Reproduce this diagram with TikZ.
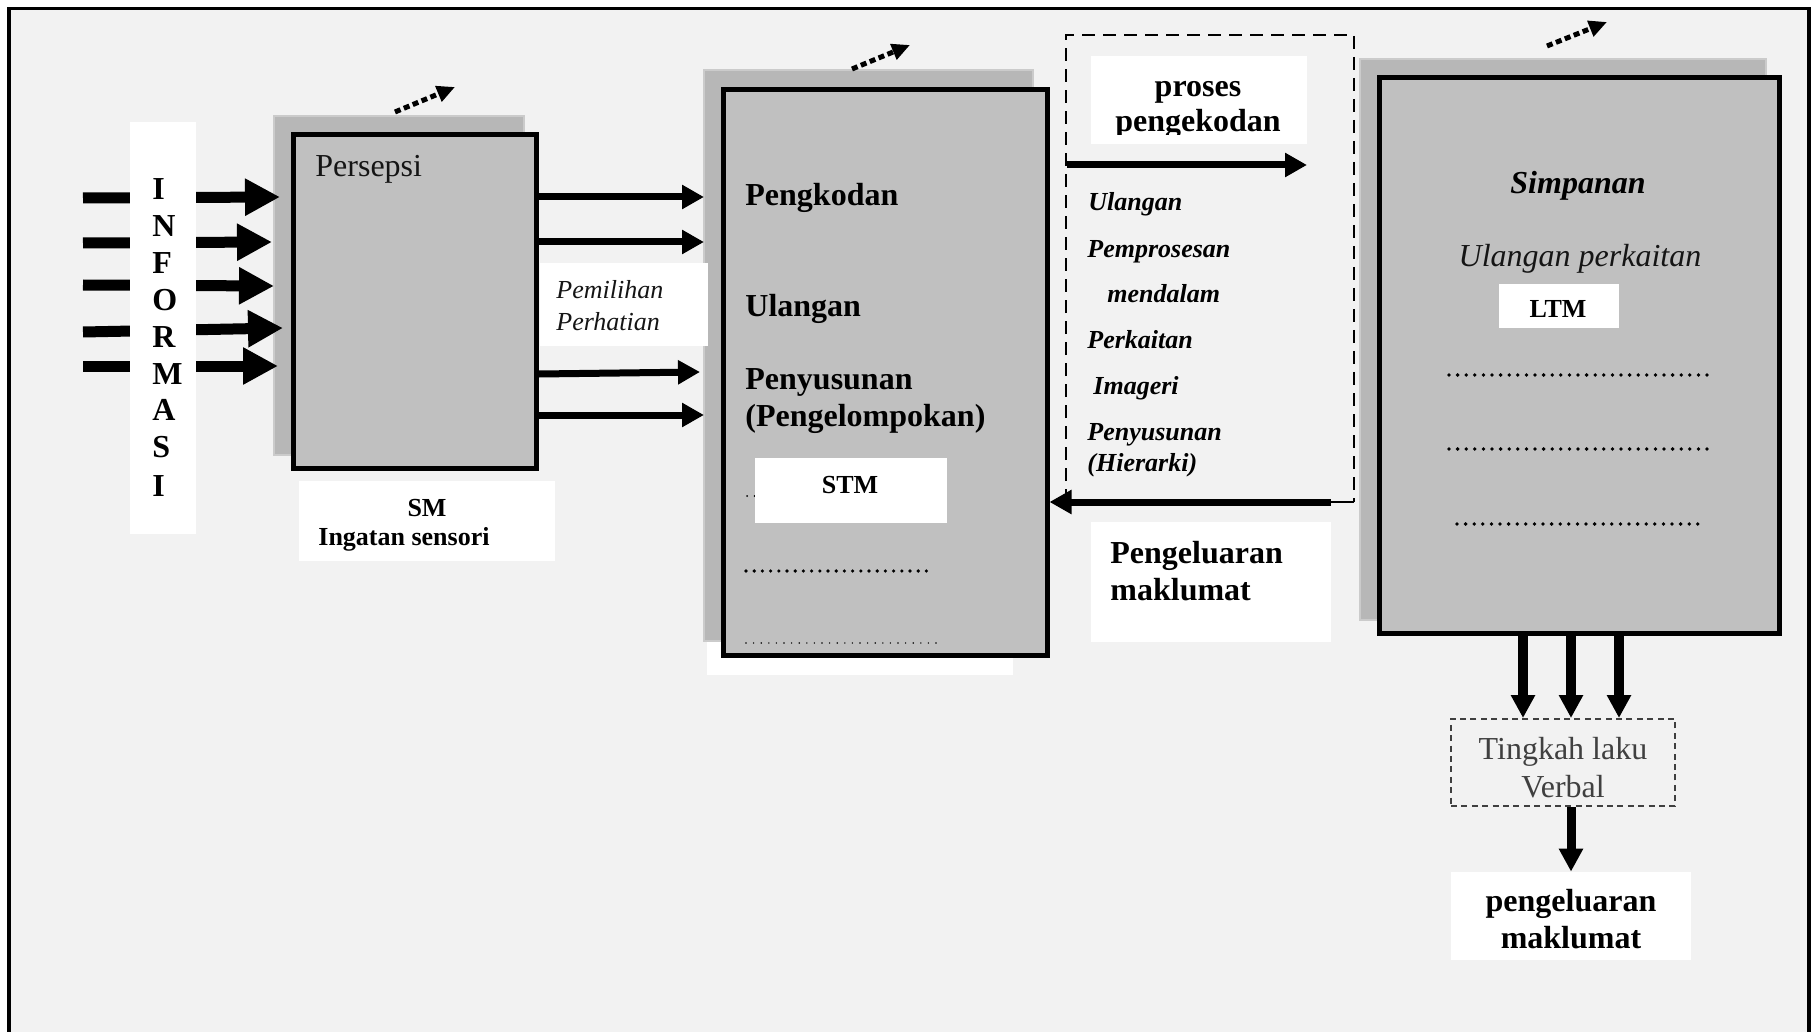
\documentclass[tikz,border=0pt]{standalone}
\usepackage{fontspec}
\setmainfont{Liberation Serif}
\usetikzlibrary{arrows.meta,fit}
\definecolor{pagebg}{HTML}{F2F2F2}
\definecolor{boxgray}{HTML}{C0C0C0}
\definecolor{shadegray}{HTML}{B7B7B7}
\definecolor{shadeedge}{HTML}{CBCBCB}
\definecolor{softtext}{HTML}{404040}
\definecolor{inktext}{HTML}{151515}
\begin{document}
\begin{tikzpicture}[x=0.5pt,y=-0.5pt,
  mainbox/.style={draw=black, line width=2.5pt, fill=boxgray, inner sep=0pt},
  shadebox/.style={draw=shadeedge, line width=0.8pt, fill=shadegray, inner sep=0pt},
  paper/.style={fill=white, draw=none, inner sep=0pt},
  lbl/.style={inner sep=0pt, anchor=base west},
  clbl/.style={inner sep=0pt, anchor=base},
  fatarrow/.style={line width=5.5pt, -{Triangle[length=17.5pt,width=17.5pt]}},
  midarrow/.style={line width=3.5pt, -{Triangle[length=11pt,width=11.5pt]}},
  downarrow/.style={line width=5pt, -{Triangle[length=11.5pt,width=11.5pt]}},
  hintarrow/.style={line width=2.5pt, dash pattern=on 3pt off 1.8pt, -{Triangle[length=9pt,width=8pt]}},
  dotrow/.style={line width=1.9pt, line cap=round, dash pattern=on 0pt off 4.3pt},
  finedots/.style={line width=0.8pt, line cap=round, dash pattern=on 0pt off 3.8pt},
  bigbold/.style={font=\fontsize{16}{19}\selectfont\bfseries},
  bigplain/.style={font=\fontsize{16}{19}\selectfont},
  bigit/.style={font=\fontsize{16}{19}\selectfont\itshape},
  bigboldit/.style={font=\fontsize{16}{19}\selectfont\bfseries\itshape},
  smallbold/.style={font=\fontsize{13}{15}\selectfont\bfseries},
  smallit/.style={font=\fontsize{13}{15}\selectfont\itshape},
  smallboldit/.style={font=\fontsize{13}{15}\selectfont\bfseries\itshape}
]
% page and frame
\useasboundingbox (0,0) rectangle (1815,1032);
\fill[white] (0,0) rectangle (1815,1032);
\fill[pagebg] (9,8.5) rectangle (1809,1032);
\draw[line width=1.75pt] (9,1032) -- (9,8.5) -- (1809,8.5) -- (1809,1032);

% back layers
\node[shadebox, fit={(274,116) (524,455)}] (persepsiback) {};
\node[paper, fit={(707,600) (1013,675)}] (stmfoot) {};
\node[shadebox, fit={(704,70) (1033,641)}] (stmback) {};
\node[shadebox, fit={(1360,59) (1766,620)}] (ltmback) {};

% label panels
\node[paper, fit={(540,263) (708,346)}] (pilihpanel) {};
\node[paper, fit={(299,481) (555,561)}] (smpanel) {};

% incoming information
\foreach \i/\ys/\xe/\ye in {1/198/280/197, 2/243/272/242, 3/285/274/286, 4/332/283/328, 5/366/278/366}{
  \coordinate (src\i) at (83,\ys);
  \coordinate (hit\i) at (\xe,\ye);
  \draw[fatarrow] (src\i) -- (hit\i);
}
\node[paper, fit={(130,122) (196,534)}] (infostrip) {};
\foreach \ch/\yb [count=\k] in {I/200, N/237, F/274, O/311, R/347, M/384, A/420, S/457, I/496}{
  \node[lbl, bigbold] (info\k) at (152,\yb) {\ch};
}

% main stores
\node[mainbox, fit={(293.5,134.5) (536.5,468.5)}] (persepsi) {};
\node[mainbox, fit={(723,89.5) (1047,655)}] (stm) {};
\node[mainbox, fit={(1379.5,77.5) (1779.5,633)}] (ltm) {};

% sensory memory
\node[lbl, bigplain, text=inktext] (persepsitxt) at (315,177) {Persepsi};
\node[clbl, smallbold] (smtxt) at (427,516) {SM};
\node[lbl, smallbold] (sensoritxt) at (318,545) {Ingatan sensori};
\coordinate (hint1a) at (395,112); \coordinate (hint1b) at (455,87);
\draw[hintarrow] (hint1a) -- (hint1b);

% selection towards short-term memory
\foreach \i/\ya/\xb/\yb in {1/197/704/197, 2/242/704/242, 3/374/700/372, 4/415/704/415}{
  \coordinate (sel\i) at (704,\ya);
  \coordinate (selend\i) at (\xb,\yb);
  \draw[midarrow] (persepsi.east |- sel\i) -- (selend\i);
}
\node[lbl, smallit, text=inktext] (pilih1) at (556,299) {Pemilihan};
\node[lbl, smallit, text=inktext] (pilih2) at (556,330) {Perhatian};

% short-term memory
\node[lbl, bigbold] (kod) at (745,206) {Pengkodan};
\node[lbl, bigbold] (ulang) at (745,316) {Ulangan};
\node[lbl, bigbold] (susun) at (745,389) {Penyusunan};
\node[lbl, bigbold] (kelompok) at (745,426) {(Pengelompokan)};
\draw[finedots, line width=1pt] (747,496) -- (900,496);
\node[paper, fit={(755,458) (947,523)}] (stmpanel) {};
\node[clbl, smallbold] (stmtxt) at (850,493) {STM};
\draw[dotrow, line width=1.8pt, dash pattern=on 0pt off 4.1pt] (746,571) -- (933,571);
\draw[finedots] (746,643) -- (942,643);
\coordinate (hint2a) at (852,69); \coordinate (hint2b) at (910,45);
\draw[hintarrow] (hint2a) -- (hint2b);

% encoding processes
\draw[line width=1pt, dash pattern=on 6.5pt off 4pt] (1066,502) -- (1066,35) -- (1354,35) -- (1354,502);
\draw[line width=1pt] (1354,502) -- (1331,502);
\node[paper, fit={(1091,56) (1307,144)}] (prosespanel) {};
\begin{scope}
  \clip (1091,56) rectangle (1307,135);
  \node[clbl, bigbold] (proses1) at (1198,97) {proses};
  \node[clbl, bigbold] (proses2) at (1198,132) {pengekodan};
\end{scope}
\coordinate (encstart) at (1067,165); \coordinate (encend) at (1307,165);
\draw[midarrow] (encstart) -- (encend);
\node[lbl, smallboldit] (p1) at (1088,211) {Ulangan};
\node[lbl, smallboldit] (p2) at (1087,257) {Pemprosesan};
\node[lbl, smallboldit] (p3) at (1107,303) {mendalam};
\node[lbl, smallboldit] (p4) at (1087,349) {Perkaitan};
\node[lbl, smallboldit] (p5) at (1093,394) {Imageri};
\node[lbl, smallboldit] (p6) at (1087,440) {Penyusunan};
\node[lbl, smallboldit] (p7) at (1087,471) {(Hierarki)};

% retrieval back to short-term memory
\coordinate (back) at (1331,502);
\draw[midarrow] (back) -- (stm.east |- back);
\node[paper, fit={(1091,522) (1331,642)}] (keluarpanel) {};
\node[lbl, bigbold] (keluar1) at (1110,563) {Pengeluaran};
\node[lbl, bigbold] (keluar2) at (1110,600) {maklumat};

% long-term memory
\node[clbl, bigboldit] (simpan) at (1578,194) {Simpanan};
\node[clbl, bigit, text=inktext] (kait) at (1580,267) {Ulangan perkaitan};
\node[paper, fit={(1499,284) (1619,328)}] (ltmpanel) {};
\node[clbl, smallbold] (ltmtxt) at (1558,318) {LTM};
\draw[dotrow] (1449,375) -- (1708,375);
\draw[dotrow] (1449,449) -- (1708,449);
\draw[dotrow] (1457,524) -- (1700,524);
\coordinate (hint3a) at (1547,46); \coordinate (hint3b) at (1607,22);
\draw[hintarrow] (hint3a) -- (hint3b);

% output
\node[draw=softtext, line width=1pt, dash pattern=on 3pt off 2.2pt, inner sep=0pt, fit={(1451,719) (1675,806)}] (verbal) {};
\node[clbl, bigplain, text=softtext] (verbal1) at (1563,759) {Tingkah laku};
\node[clbl, bigplain, text=softtext] (verbal2) at (1563,797) {Verbal};
\foreach \i/\xx in {1/1523, 2/1571, 3/1619}{
  \coordinate (drop\i) at (\xx,700);
  \draw[downarrow] (ltm.south -| drop\i) -- (verbal.north -| drop\i);
}
\node[paper, fit={(1451,872) (1691,960)}] (outpanel) {};
\node[clbl, bigbold] (out1) at (1571,911) {pengeluaran};
\node[clbl, bigbold] (out2) at (1571,948) {maklumat};
\coordinate (outx) at (1571,850);
\draw[downarrow, line width=4.5pt] (verbal.south -| outx) -- (outpanel.north -| outx);
\end{tikzpicture}
\end{document}
